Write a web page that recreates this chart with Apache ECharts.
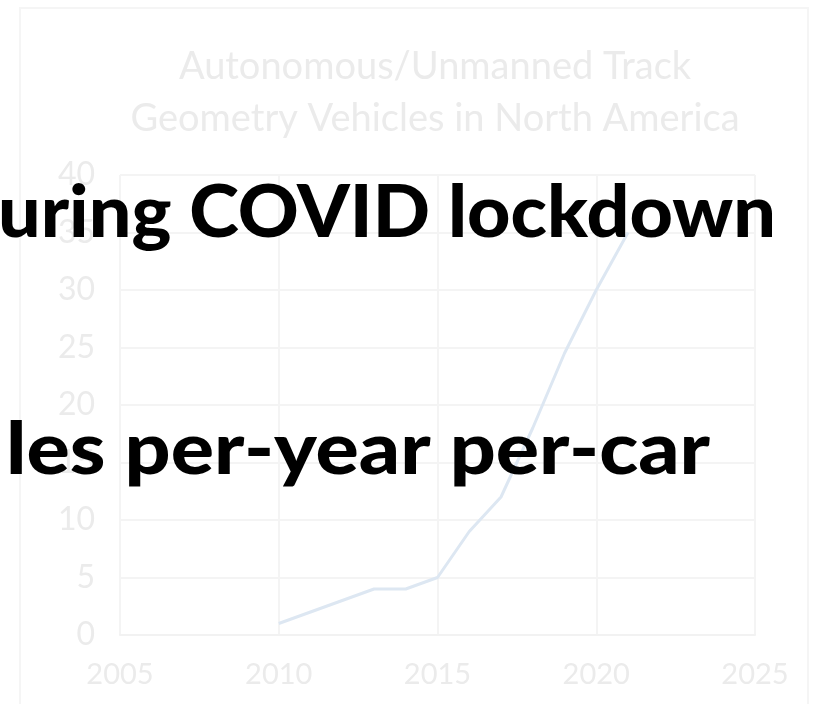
<!DOCTYPE html>
<html>
<head>
<meta charset="utf-8">
<script src="https://cdn.jsdelivr.net/npm/echarts@6/dist/echarts.min.js"></script>
<style>
  html, body { margin: 0; padding: 0; background: #ffffff; }
  #chart { width: 822px; height: 704px; }
</style>
</head>
<body>
<div id="chart"></div>
<script>
// Fleet size of autonomous / unmanned track geometry vehicles by year
const years = [2010, 2011, 2012, 2013, 2014, 2015, 2016, 2017, 2018, 2019, 2020, 2021];
const vehicles = [1, 2, 3, 4, 4, 5, 9, 12, 18, 24.5, 30, 35];

// Axis ranges and ticks
const xTicks = [2005, 2010, 2015, 2020, 2025];
const yTicks = [0, 5, 10, 15, 20, 25, 30, 35, 40];

const chartTitle = 'Autonomous/Unmanned Track\nGeometry Vehicles in North America';
const overlayLines = ['uring COVID lockdown', 'les per-year per-car'];

const labelFont = 'Lato, "Open Sans", sans-serif';
const boldFont = '900 72px Lato, "Open Sans", sans-serif';

// Fit a bold caption line to a target pixel width
function fitScale(text, targetWidth) {
  const ctx = document.createElement('canvas').getContext('2d');
  ctx.font = boldFont;
  return targetWidth / ctx.measureText(text).width;
}

const chart = echarts.init(document.getElementById('chart'), null, { renderer: 'canvas' });

const option = {
  backgroundColor: '#ffffff',
  animation: false,
  title: {
    text: chartTitle,
    left: 430,
    top: 36,
    textAlign: 'center',
    textStyle: {
      fontFamily: labelFont,
      fontWeight: 'normal',
      fontSize: 38,
      lineHeight: 52,
      color: '#ebebeb'
    }
  },
  grid: { left: 120, right: 67, top: 175, bottom: 69, containLabel: false },
  xAxis: {
    type: 'value',
    min: xTicks[0],
    max: xTicks[xTicks.length - 1],
    interval: 5,
    axisLine: { show: true, lineStyle: { color: '#f2f2f2', width: 2 } },
    axisTick: { show: false },
    splitLine: { show: true, lineStyle: { color: '#f4f4f4', width: 2 } },
    axisLabel: {
      margin: 25,
      fontFamily: labelFont,
      fontSize: 29,
      color: '#ebebeb',
      formatter: (v) => String(v)
    }
  },
  yAxis: {
    type: 'value',
    min: yTicks[0],
    max: yTicks[yTicks.length - 1],
    interval: 5,
    axisLine: { show: false },
    axisTick: { show: false },
    splitLine: { show: true, lineStyle: { color: '#f4f4f4', width: 2 } },
    axisLabel: {
      margin: 25,
      fontFamily: labelFont,
      fontSize: 32,
      color: '#ebebeb'
    }
  },
  series: [{
    type: 'line',
    data: years.map((y, i) => [y, vehicles[i]]),
    showSymbol: false,
    lineStyle: { color: '#dde7f2', width: 3 },
    z: 2
  }],
  graphic: [
    {
      type: 'rect',
      shape: { x: 20, y: 8, width: 788, height: 720 },
      style: { fill: 'none', stroke: '#f5f5f5', lineWidth: 2 },
      silent: true,
      z: 0
    },
    {
      type: 'text',
      x: -2,
      y: 178,
      scaleX: fitScale(overlayLines[0], 778),
      style: {
        text: overlayLines[0],
        font: boldFont,
        fill: '#000000',
        align: 'left',
        verticalAlign: 'top'
      },
      z: 100
    },
    {
      type: 'text',
      x: 6,
      y: 415,
      scaleX: fitScale(overlayLines[1], 704),
      style: {
        text: overlayLines[1],
        font: boldFont,
        fill: '#000000',
        align: 'left',
        verticalAlign: 'top'
      },
      z: 100
    }
  ]
};

chart.setOption(option);
</script>
</body>
</html>
